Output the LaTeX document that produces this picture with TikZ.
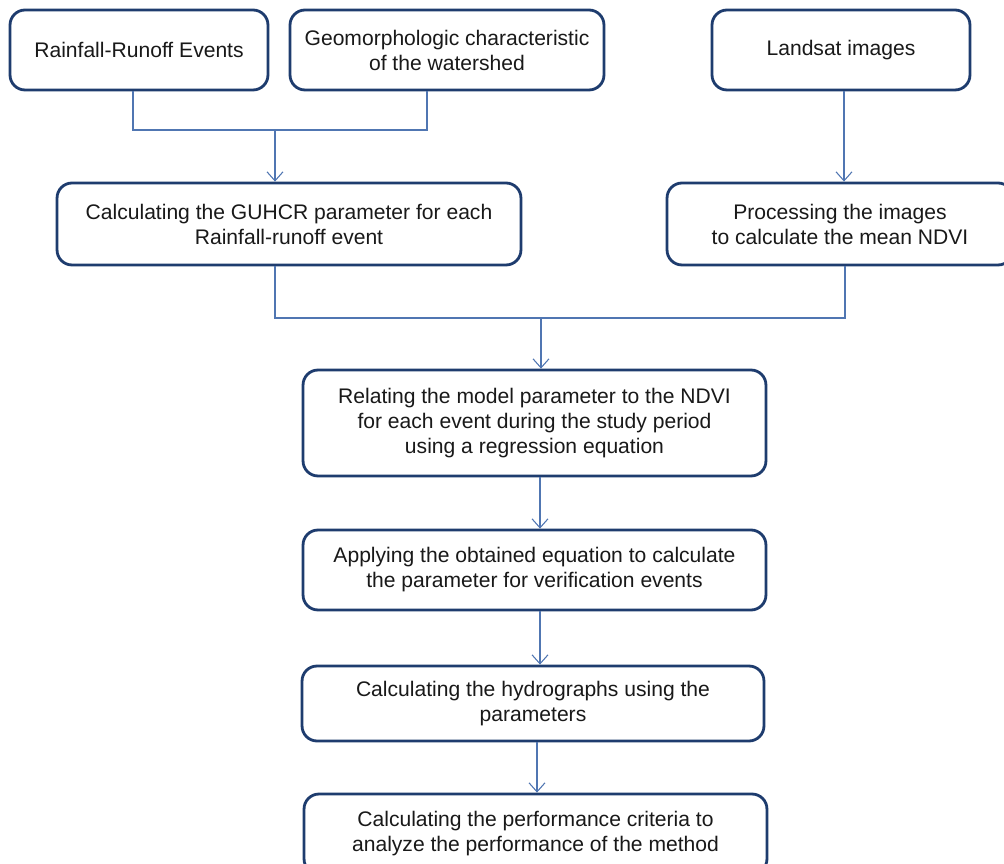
\documentclass[tikz,border=0pt]{standalone}
\usepackage{fontspec}
\setmainfont{Liberation Sans}
\usetikzlibrary{arrows.meta}
\usetikzlibrary{positioning}
\definecolor{boxblue}{RGB}{30,60,110}
\definecolor{lineblue}{RGB}{80,118,178}
\tikzset{
  stepbox/.style={draw=boxblue,line width=1.6pt,rounded corners=0.3cm,fill=white,
    align=center,inner sep=2pt,font=\fontsize{12}{14.2}\selectfont,text=black!90},
  link/.style={draw=lineblue,line width=0.6pt},
  arrow/.style={link,-{Straight Barb[length=1.8mm,width=3.2mm]}}
}
\begin{document}
\begin{tikzpicture}[x=0.02cm,y=-0.02cm]
\clip (0,0) rectangle (1004,864);
\useasboundingbox (0,0) rectangle (1004,864);
\fill[white] (0,0) rectangle (1004,864);

\node[stepbox,minimum width=5.16cm,minimum height=1.6cm] (events) at (139,50) {Rainfall-Runoff Events};
\node[stepbox,minimum width=6.28cm,minimum height=1.6cm] (geomorph) at (447,50) {Geomorphologic characteristic\\of the watershed};
\node[stepbox,minimum width=5.16cm,minimum height=1.6cm] (landsat) at (841,50) {Landsat images};
\node[stepbox,minimum width=9.28cm,minimum height=1.64cm] (guhcr) at (289,224) {Calculating the GUHCR parameter for each\\Rainfall-runoff event};
\node[stepbox,minimum width=6.92cm,minimum height=1.64cm] (ndvi) at (840,224) {Processing the images\\to calculate the mean NDVI};
\node[stepbox,minimum width=9.26cm,minimum height=2.12cm] (relate) at (534.5,423) {Relating the model parameter to the NDVI\\for each event during the study period\\using a regression equation};
\node[stepbox,minimum width=9.26cm,minimum height=1.6cm] (apply) at (534.5,570) {Applying the obtained equation to calculate\\the parameter for verification events};
\node[stepbox,minimum width=9.24cm,minimum height=1.5cm] (hydro) at (533,703.5) {Calculating the hydrographs using the\\parameters};
\node[stepbox,minimum width=9.26cm,minimum height=1.6cm] (perf) at (535.5,834) {Calculating the performance criteria to\\analyze the performance of the method};

\coordinate (join1) at (275,130);
\coordinate (join2) at (541,318);

\draw[link] ([xshift=-0.12cm]events.south) |- (join1);
\draw[link] ([xshift=-0.4cm]geomorph.south) |- (join1);
\draw[arrow] (join1) -- (join1 |- guhcr.north);
\draw[arrow] ([xshift=0.06cm]landsat.south) -- ([xshift=0.06cm]landsat.south |- ndvi.north);
\draw[link] ([xshift=-0.28cm]guhcr.south) |- (join2);
\draw[link] ([xshift=0.1cm]ndvi.south) |- (join2);
\draw[arrow] (join2) -- (join2 |- relate.north);
\draw[arrow] ([xshift=0.11cm]relate.south) -- ([xshift=0.11cm]apply.north);
\draw[arrow] ([xshift=0.11cm]apply.south) -- ([xshift=0.11cm]apply.south |- hydro.north);
\draw[arrow] ([xshift=0.08cm]hydro.south) -- ([xshift=0.08cm]hydro.south |- perf.north);

\end{tikzpicture}
\end{document}
